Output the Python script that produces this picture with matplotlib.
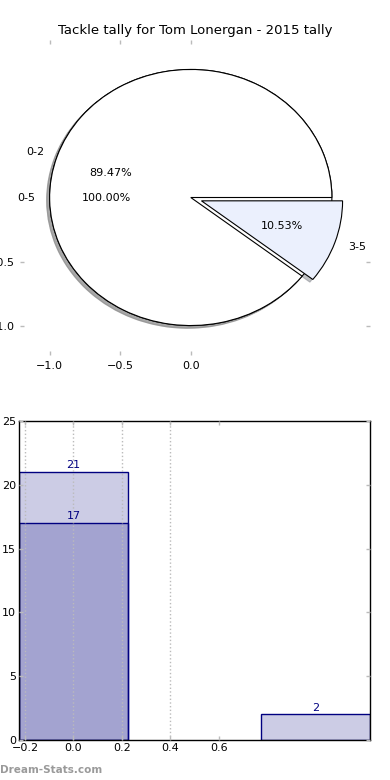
import matplotlib
matplotlib.use("Agg")
import matplotlib.pyplot as plt

# pie data
outer_labels = ["0-5"]
outer_vals = [19]
inner_labels = ["0-2", "3-5"]
inner_vals = [17, 2]

# bar data
bar_x = [0, 1]
bar_totals = [21, 2]
bar_x2 = [0]
bar_part = [17]

title = "Tackle tally for Tom Lonergan - 2015 tally"
navy = "#000080"
fill = (0, 0, 0.5, 0.2)
tick_grey = "#bbbbbb"

fig = plt.figure(figsize=(3.9, 7.8), dpi=100)

# ---- pie ----
ax = fig.add_axes([20/390, 1 - 355/780, 350/390, 315/780])
shadow = dict(ox=-0.015, oy=-0.015, shade=0.45)
ax.pie(outer_vals, labels=outer_labels, autopct="%.2f%%", shadow=shadow,
       colors=["white"], wedgeprops=dict(edgecolor="black", linewidth=0.8),
       textprops=dict(fontsize=8))
ax.pie(inner_vals, labels=inner_labels, autopct="%.2f%%", shadow=shadow,
       explode=[0, 0.08], colors=["white", "#ebf0fd"],
       wedgeprops=dict(edgecolor="black", linewidth=0.8),
       textprops=dict(fontsize=8))
ax.set_aspect("auto")
ax.set_xlim(-1.21, 1.27)
ax.set_ylim(-1.23, 1.23)
ax.set_frame_on(False)
ax.set_xticks([-1.0, -0.5, 0.0])
ax.set_yticks([-1.0, -0.5])
ax.tick_params(direction="in", length=3, width=1, color=tick_grey,
               top=True, right=True, labelsize=8, pad=4)
ax.set_title(title, fontsize=9.5, pad=4)

# ---- bars ----
bx = fig.add_axes([19/390, 40/780, 351/390, 319/780])
bars = bx.bar(bar_x, bar_totals, width=0.45, facecolor=fill,
              edgecolor=navy, linewidth=1)
bars2 = bx.bar(bar_x2, bar_part, width=0.45, facecolor=fill,
               edgecolor=navy, linewidth=1)
for b in list(bars) + list(bars2):
    bx.text(b.get_x() + b.get_width()/2, b.get_height() + 0.15,
            "%d" % b.get_height(), ha="center", va="bottom",
            fontsize=8, color=navy)
bx.set_xlim(-0.225, 1.225)
bx.set_ylim(0, 25)
bx.set_xticks([-0.2, 0.0, 0.2, 0.4, 0.6])
bx.set_yticks([0, 5, 10, 15, 20, 25])
bx.tick_params(direction="in", length=3, width=1, color=tick_grey,
               top=True, right=True, labelsize=8, pad=2)
bx.grid(axis="x", linestyle=":", color=tick_grey, linewidth=1)
bx.get_xgridlines()[-1].set_visible(False)
bx.set_axisbelow(False)
for s in bx.spines.values():
    s.set_linewidth(1)

fig.text(0.0, 1 - 770/780, "Dream-Stats.com", fontsize=7.5, color="#9a9a9a",
         fontweight="bold", va="center", ha="left")

fig.savefig("out.png", dpi=100)
